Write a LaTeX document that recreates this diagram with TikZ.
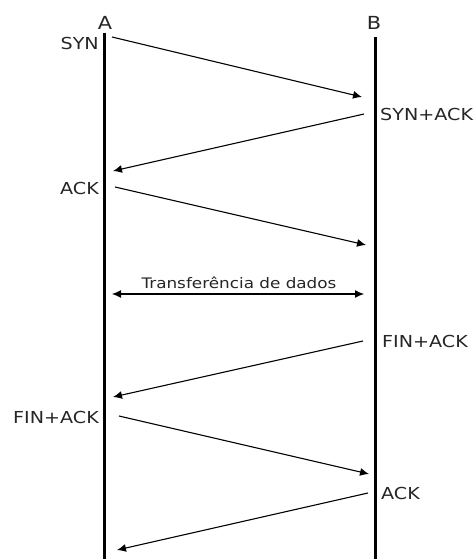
\documentclass[tikz,border=0pt]{standalone}
\usepackage{fontspec}
\setmainfont{DejaVu Sans}
\newfontfamily\lblfont[FakeStretch=1.16]{DejaVu Sans}
\usetikzlibrary{arrows.meta}
\begin{document}
\begin{tikzpicture}[x=1pt,y=-1pt,
  lifeline/.style={line width=3pt},
  tip/.tip={Latex[length=9pt,width=8pt]},
  msg/.style={line width=1.1pt,-tip},
  lbl/.style={inner sep=0pt,text=black!85,font=\lblfont\fontsize{16.5}{18}\selectfont},
  head/.style={inner sep=0pt,text=black!85,font=\lblfont\fontsize{18}{20}\selectfont},
  small/.style={inner sep=0pt,text=black!85,font=\lblfont\fontsize{14.5}{16}\selectfont}]
  \useasboundingbox (0,0) rectangle (474,559);

  % process names and time lines
  \node[head] (A) at (105,23) {A};
  \node[head] (B) at (374,23) {B};
  \coordinate (Atop) at (104.5,33);
  \coordinate (Abot) at (104.5,559);
  \coordinate (Btop) at (375,37);
  \coordinate (Bbot) at (375,559);
  \draw[lifeline] (Atop) -- (Abot);
  \draw[lifeline] (Btop) -- (Bbot);

  % message labels
  \node[lbl,anchor=east] (syn) at (99,43) {SYN};
  \node[lbl,anchor=west] (synack) at (380,114) {SYN+ACK};
  \node[lbl,anchor=east] (ack1) at (99,188) {ACK};
  \node[small] (data) at (239,283) {Transferência de dados};
  \node[lbl,anchor=west] (finackB) at (382,341) {FIN+ACK};
  \node[lbl,anchor=east] (finackA) at (99,417) {FIN+ACK};
  \node[lbl,anchor=west] (ack2) at (381,493) {ACK};

  % message end points
  \coordinate (m1s) at (112,37);  \coordinate (m1e) at (362,97);
  \coordinate (m2s) at (364,114); \coordinate (m2e) at (113,171);
  \coordinate (m3s) at (115,187); \coordinate (m3e) at (366,245);
  \coordinate (dL) at (112,294);  \coordinate (dR) at (364,294);
  \coordinate (m4s) at (363,341); \coordinate (m4e) at (113,397);
  \coordinate (m5s) at (119,416); \coordinate (m5e) at (369,474);
  \coordinate (m6s) at (368,493); \coordinate (m6e) at (117,550);

  % messages
  \draw[msg] (m1s) -- (m1e);
  \draw[msg] (m2s) -- (m2e);
  \draw[msg] (m3s) -- (m3e);
  \draw[msg,tip-tip] (dL) -- (dR);
  \draw[msg] (m4s) -- (m4e);
  \draw[msg] (m5s) -- (m5e);
  \draw[msg] (m6s) -- (m6e);
\end{tikzpicture}
\end{document}
